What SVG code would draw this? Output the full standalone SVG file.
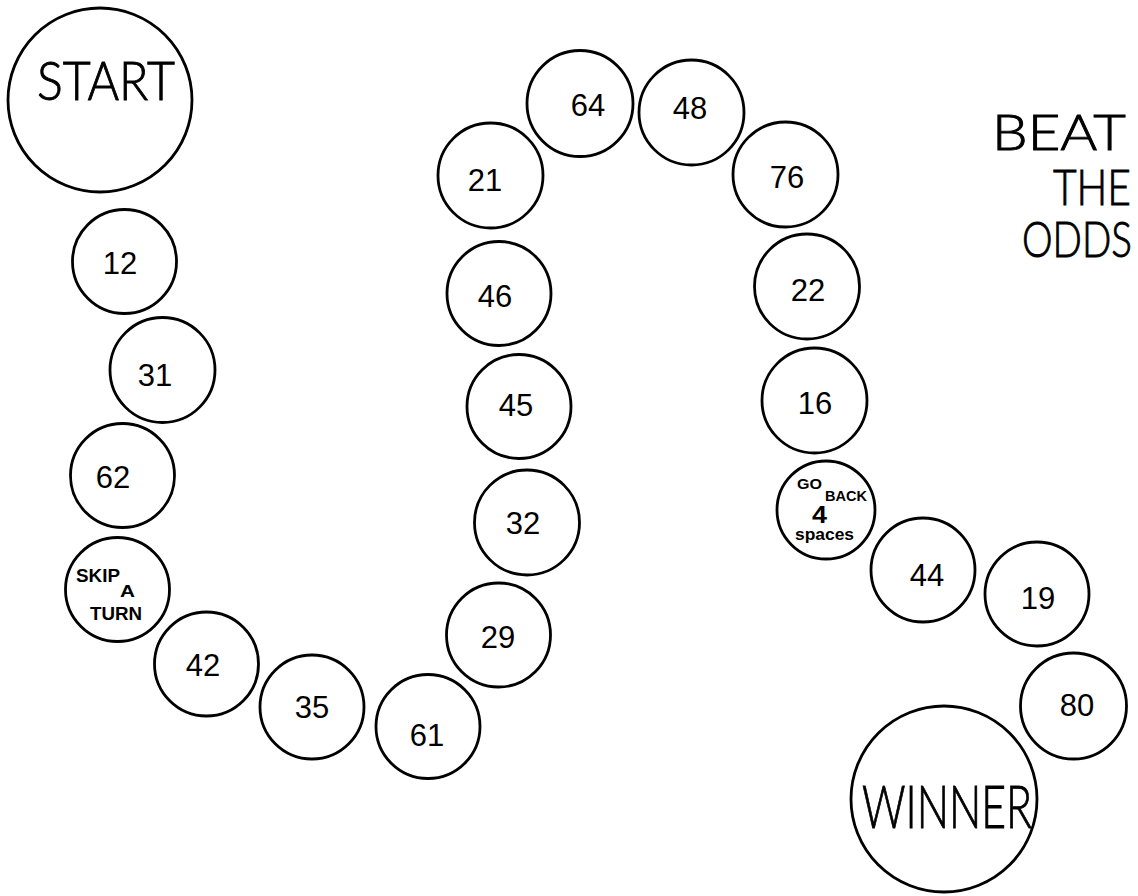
<svg xmlns="http://www.w3.org/2000/svg" width="1138" height="896" viewBox="0 0 1138 896">
<style>
.c{fill:#fff;stroke:#000;stroke-width:2.8}
.n{font-family:"Liberation Sans",Arial,sans-serif;font-size:31px;text-anchor:middle;fill:#000}
.big{font-family:Lato,"Liberation Sans",sans-serif;font-weight:300;fill:#000;stroke:#000;stroke-width:0.9}
.s{font-family:"Liberation Sans",Arial,sans-serif;font-weight:bold;fill:#000}
</style>
<rect width="1138" height="896" fill="#fff"/>
<g id="connectors"></g>
<g id="start"><circle class="c" cx="100" cy="100" r="92"/><text class="big" x="37" y="100" font-size="53" textLength="138" lengthAdjust="spacingAndGlyphs">START</text></g>
<g id="n12"><circle class="c" cx="124.5" cy="261.5" r="52"/><text class="n" x="120" y="274">12</text></g>
<g id="n31"><circle class="c" cx="162.5" cy="370" r="52.5"/><text class="n" x="155" y="386">31</text></g>
<g id="n62"><circle class="c" cx="122.5" cy="475.5" r="52"/><text class="n" x="113" y="488">62</text></g>
<g id="skip"><circle class="c" cx="117.5" cy="589.5" r="52"/>
<text class="s" x="76" y="582" font-size="18" textLength="44" lengthAdjust="spacingAndGlyphs">SKIP</text>
<text class="s" x="120" y="597" font-size="16" textLength="15" lengthAdjust="spacingAndGlyphs">A</text>
<text class="s" x="90" y="620" font-size="18" textLength="52" lengthAdjust="spacingAndGlyphs">TURN</text></g>
<g id="n42"><circle class="c" cx="206.5" cy="664" r="52"/><text class="n" x="203" y="676">42</text></g>
<g id="n35"><circle class="c" cx="312" cy="707" r="52"/><text class="n" x="312" y="718">35</text></g>
<g id="n61"><circle class="c" cx="428" cy="726.5" r="52"/><text class="n" x="427" y="746">61</text></g>
<g id="n29"><circle class="c" cx="498.5" cy="635" r="52"/><text class="n" x="498" y="648">29</text></g>
<g id="n32"><circle class="c" cx="527" cy="522.5" r="52.5"/><text class="n" x="523" y="534">32</text></g>
<g id="n45"><circle class="c" cx="519" cy="406.5" r="52"/><text class="n" x="516" y="416">45</text></g>
<g id="n46"><circle class="c" cx="499" cy="293.5" r="52"/><text class="n" x="495" y="307">46</text></g>
<g id="n21"><circle class="c" cx="490.5" cy="175.5" r="52.5"/><text class="n" x="485" y="191">21</text></g>
<g id="n64"><circle class="c" cx="580" cy="103.5" r="53"/><text class="n" x="588" y="116">64</text></g>
<g id="n48"><circle class="c" cx="691.5" cy="112.5" r="52.5"/><text class="n" x="690" y="119">48</text></g>
<g id="n76"><circle class="c" cx="785.5" cy="174.5" r="52.5"/><text class="n" x="787" y="188">76</text></g>
<g id="n22"><circle class="c" cx="807" cy="286.5" r="52.5"/><text class="n" x="808" y="301">22</text></g>
<g id="n16"><circle class="c" cx="814.5" cy="400.5" r="52.5"/><text class="n" x="815" y="414">16</text></g>
<g id="goback"><circle class="c" cx="826" cy="510" r="49"/>
<text class="s" x="797" y="489" font-size="14" textLength="25" lengthAdjust="spacingAndGlyphs">GO</text>
<text class="s" x="825" y="501" font-size="14" textLength="42" lengthAdjust="spacingAndGlyphs">BACK</text>
<text class="s" x="812" y="523" font-size="24" textLength="15" lengthAdjust="spacingAndGlyphs">4</text>
<text class="s" x="795" y="540" font-size="16" textLength="59" lengthAdjust="spacingAndGlyphs">spaces</text></g>
<g id="n44"><circle class="c" cx="923" cy="570" r="52"/><text class="n" x="927" y="586">44</text></g>
<g id="n19"><circle class="c" cx="1037" cy="594" r="52"/><text class="n" x="1038" y="609">19</text></g>
<g id="n80"><circle class="c" cx="1073.5" cy="706" r="53"/><text class="n" x="1077" y="716">80</text></g>
<g id="winner"><circle class="c" cx="944" cy="799" r="93"/><text class="big" x="862" y="828" font-size="60" textLength="170" lengthAdjust="spacingAndGlyphs">WINNER</text></g>
<g id="title">
<text class="big" x="1126" y="150" font-size="50" text-anchor="end" textLength="134" lengthAdjust="spacingAndGlyphs">BEAT</text>
<text class="big" x="1131" y="205" font-size="50" text-anchor="end" textLength="78" lengthAdjust="spacingAndGlyphs">THE</text>
<text class="big" x="1132" y="257" font-size="50" text-anchor="end" textLength="110" lengthAdjust="spacingAndGlyphs">ODDS</text>
</g>
</svg>
